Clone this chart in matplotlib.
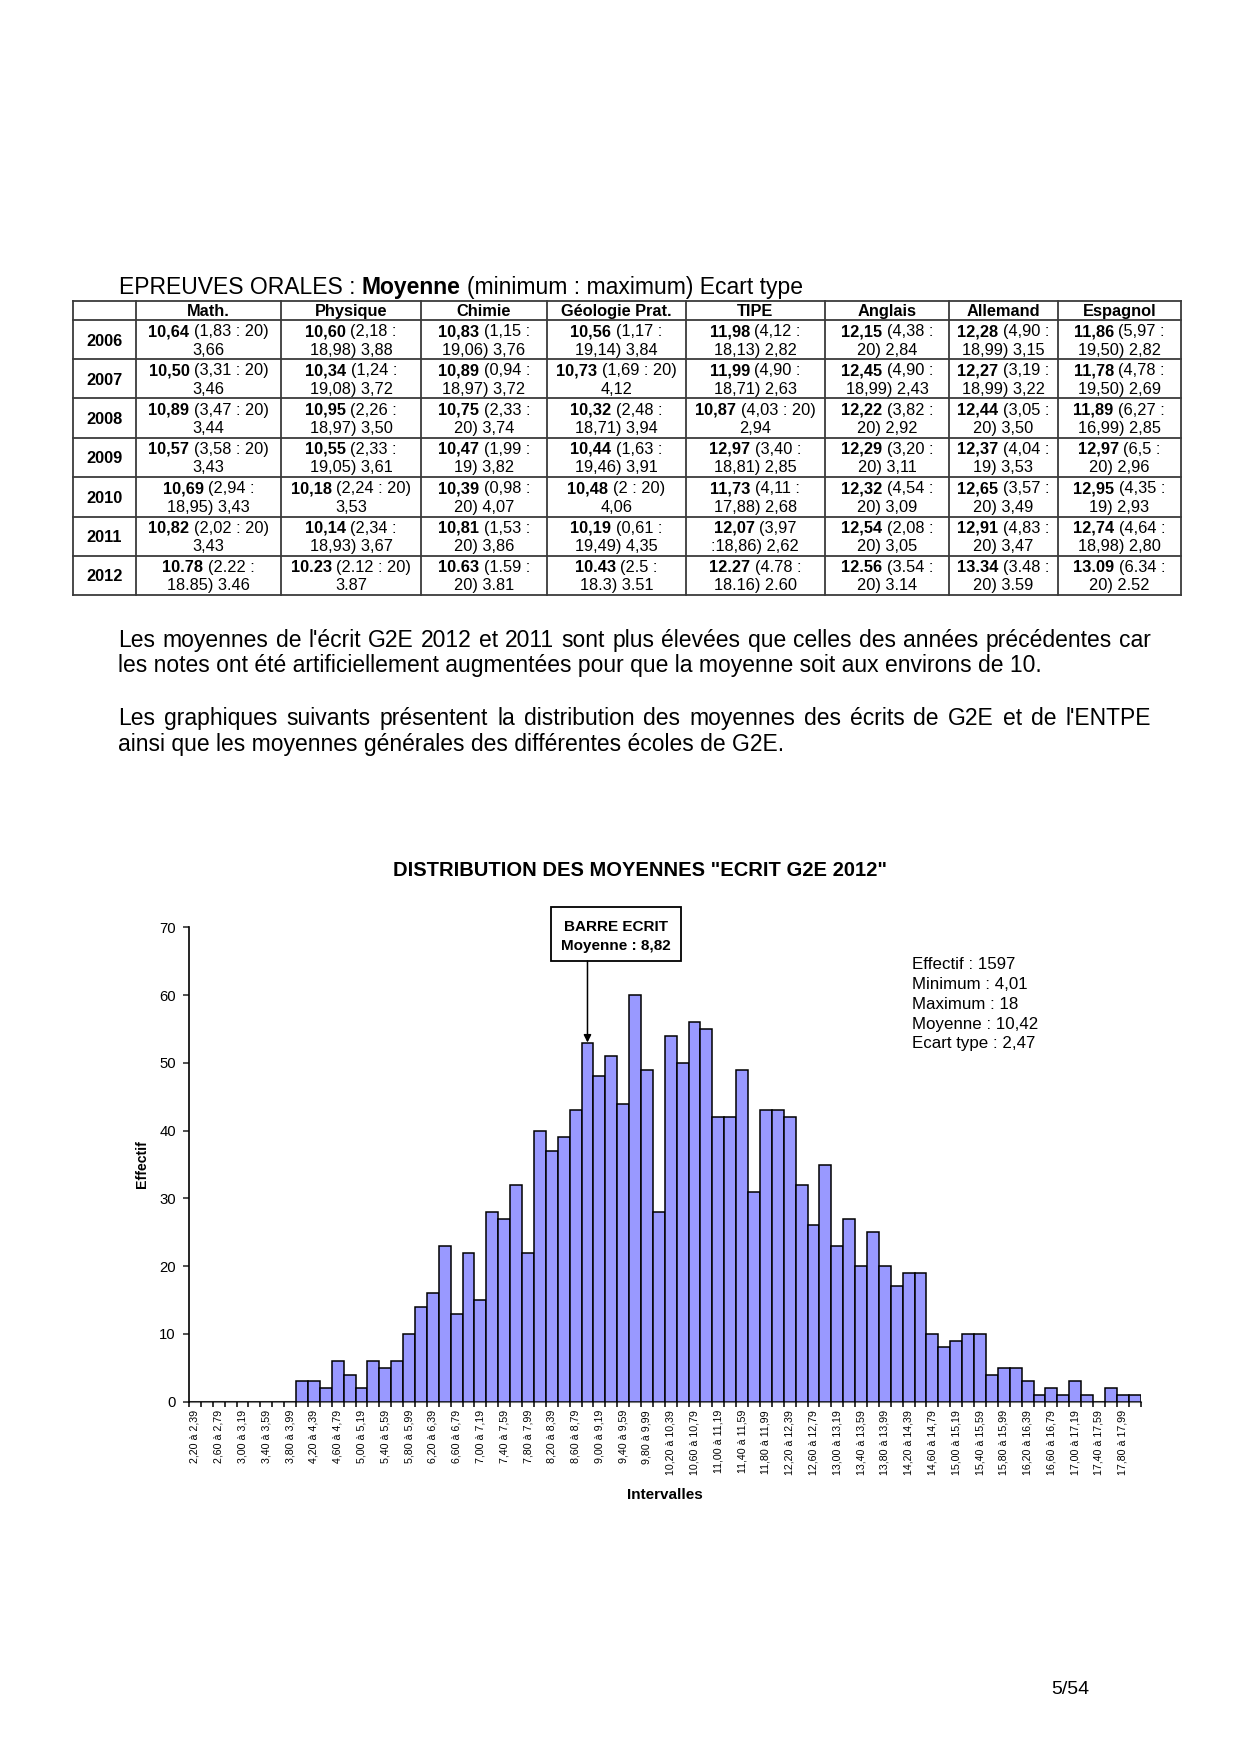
import numpy as np
import matplotlib
matplotlib.use('Agg')
import matplotlib.pyplot as plt
from matplotlib.patches import Rectangle
from matplotlib.lines import Line2D

plt.rcParams['font.family'] = ['Liberation Sans', 'DejaVu Sans']

# ---------------- DATA ----------------
table_title = [("EPREUVES ORALES :", 'normal'), ("Moyenne", 'bold'),
               ("(minimum : maximum) Ecart type", 'normal')]
subjects = ['Math.', 'Physique', 'Chimie', 'Géologie Prat.', 'TIPE',
            'Anglais', 'Allemand', 'Espagnol']
years = ['2006', '2007', '2008', '2009', '2010', '2011', '2012']

math_cells = ["10,64 (1,83 : 20)\n3,66", "10,50 (3,31 : 20)\n3,46", "10,89 (3,47 : 20)\n3,44",
              "10,57 (3,58 : 20)\n3,43", "10,69 (2,94 :\n18,95) 3,43", "10,82 (2,02 : 20)\n3,43",
              "10.78 (2.22 :\n18.85) 3.46"]
physique_cells = ["10,60 (2,18 :\n18,98) 3,88", "10,34 (1,24 :\n19,08) 3,72", "10,95 (2,26 :\n18,97) 3,50",
                  "10,55 (2,33 :\n19,05) 3,61", "10,18 (2,24 : 20)\n3,53", "10,14 (2,34 :\n18,93) 3,67",
                  "10.23 (2.12 : 20)\n3.87"]
chimie_cells = ["10,83 (1,15 :\n19,06) 3,76", "10,89 (0,94 :\n18,97) 3,72", "10,75 (2,33 :\n20) 3,74",
                "10,47 (1,99 :\n19) 3,82", "10,39 (0,98 :\n20) 4,07", "10,81 (1,53 :\n20) 3,86",
                "10.63 (1.59 :\n20) 3.81"]
geologie_cells = ["10,56 (1,17 :\n19,14) 3,84", "10,73 (1,69 : 20)\n4,12", "10,32 (2,48 :\n18,71) 3,94",
                  "10,44 (1,63 :\n19,46) 3,91", "10,48 (2 : 20)\n4,06", "10,19 (0,61 :\n19,49) 4,35",
                  "10.43 (2.5 :\n18.3) 3.51"]
tipe_cells = ["11,98 (4,12 :\n18,13) 2,82", "11,99 (4,90 :\n18,71) 2,63", "10,87 (4,03 : 20)\n2,94",
              "12,97 (3,40 :\n18,81) 2,85", "11,73 (4,11 :\n17,88) 2,68", "12,07 (3,97\n:18,86) 2,62",
              "12.27 (4.78 :\n18.16) 2.60"]
anglais_cells = ["12,15 (4,38 :\n20) 2,84", "12,45 (4,90 :\n18,99) 2,43", "12,22 (3,82 :\n20) 2,92",
                 "12,29 (3,20 :\n20) 3,11", "12,32 (4,54 :\n20) 3,09", "12,54 (2,08 :\n20) 3,05",
                 "12.56 (3.54 :\n20) 3.14"]
allemand_cells = ["12,28 (4,90 :\n18,99) 3,15", "12,27 (3,19 :\n18,99) 3,22", "12,44 (3,05 :\n20) 3,50",
                  "12,37 (4,04 :\n19) 3,53", "12,65 (3,57 :\n20) 3,49", "12,91 (4,83 :\n20) 3,47",
                  "13.34 (3.48 :\n20) 3.59"]
espagnol_cells = ["11,86 (5,97 :\n19,50) 2,82", "11,78 (4,78 :\n19,50) 2,69", "11,89 (6,27 :\n16,99) 2,85",
                  "12,97 (6,5 :\n20) 2,96", "12,95 (4,35 :\n19) 2,93", "12,74 (4,64 :\n18,98) 2,80",
                  "13.09 (6.34 :\n20) 2.52"]
columns = [math_cells, physique_cells, chimie_cells, geologie_cells, tipe_cells,
           anglais_cells, allemand_cells, espagnol_cells]

paragraph1 = ["Les moyennes de l'écrit G2E 2012 et 2011 sont plus élevées que celles des années précédentes car",
              "les notes ont été artificiellement augmentées pour que la moyenne soit aux environs de 10."]
paragraph2 = ["Les graphiques suivants présentent la distribution des moyennes des écrits de G2E et de l'ENTPE",
              "ainsi que les moyennes générales des différentes écoles de G2E."]

chart_title = 'DISTRIBUTION DES MOYENNES "ECRIT G2E 2012"'
tick_labels = ["2,20 à 2,39", "2,60 à 2,79", "3,00 à 3,19", "3,40 à 3,59", "3,80 à 3,99",
               "4,20 à 4,39", "4,60 à 4,79", "5,00 à 5,19", "5,40 à 5,59", "5,80 à 5,99",
               "6,20 à 6,39", "6,60 à 6,79", "7,00 à 7,19", "7,40 à 7,59", "7,80 à 7,99",
               "8,20 à 8,39", "8,60 à 8,79", "9,00 à 9,19", "9,40 à 9,59", "9,80 à 9,99",
               "10,20 à 10,39", "10,60 à 10,79", "11,00 à 11,19", "11,40 à 11,59", "11,80 à 11,99",
               "12,20 à 12,39", "12,60 à 12,79", "13,00 à 13,19", "13,40 à 13,59", "13,80 à 13,99",
               "14,20 à 14,39", "14,60 à 14,79", "15,00 à 15,19", "15,40 à 15,59", "15,80 à 15,99",
               "16,20 à 16,39", "16,60 à 16,79", "17,00 à 17,19", "17,40 à 17,59", "17,80 à 17,99"]
# counts per 0.20-wide interval, starting at 2,20
counts = [0, 0, 0, 0, 0, 0, 0, 0, 0,
          3, 3, 2, 6, 4, 2, 6, 5, 6, 10, 14,
          16, 23, 13, 22, 15, 28, 27, 32, 22, 40, 37, 39, 43, 53, 48, 51, 44, 60, 49, 28, 54,
          50, 56, 55, 42, 42, 49, 31, 43, 43, 42, 32, 26, 35, 23, 27, 20, 25, 20, 17, 19, 19,
          10, 8, 9, 10, 10, 4, 5, 5, 3, 1, 2, 1, 3, 1, 0, 2, 1, 1]
first_bin = 2.20
bin_width = 0.20
barre_value = 8.82
barre_lines = ["BARRE ECRIT", "Moyenne : 8,82"]
stats_lines = ["Effectif : 1597", "Minimum : 4,01", "Maximum : 18", "Moyenne : 10,42", "Ecart type : 2,47"]
page_number = "5/54"

# ---------------- LAYOUT ----------------
W, H = 1240, 1754
fig = plt.figure(figsize=(W / 100, H / 100), dpi=100)
page = fig.add_axes([0, 0, 1, 1])
page.set_xlim(0, W)
page.set_ylim(H, 0)
page.axis('off')
renderer = fig.canvas.get_renderer()


def _w(t, size, weight):
    a = page.text(0, 0, t, fontsize=size, fontweight=weight)
    r = a.get_window_extent(renderer).width
    a.remove()
    return r


def adv(s, size, weight='normal'):
    return _w('X' + s + 'X', size, weight) - _w('XX', size, weight)


def baseline(yc, size):
    return yc + 0.36 * size * 100 / 72


def draw_pieces(x, yc, pieces, size, align='left'):
    sp = adv(' ', size)
    widths = [adv(t, size, w) for t, w in pieces]
    total = sum(widths) + sp * (len(pieces) - 1)
    if align == 'center':
        x = x - total / 2
    yb = baseline(yc, size)
    for (t, w), wd in zip(pieces, widths):
        page.text(x, yb, t, fontsize=size, fontweight=w, ha='left', va='baseline')
        x += wd + sp


def draw_justified(x0, x1, yc, line, size):
    words = line.split(' ')
    widths = [adv(w, size) for w in words]
    gap = (x1 - x0 - sum(widths)) / (len(words) - 1)
    x = x0
    yb = baseline(yc, size)
    for w, wd in zip(words, widths):
        page.text(x, yb, w, fontsize=size, ha='left', va='baseline')
        x += wd + gap


# ---- table title ----
draw_pieces(119, 285.5, table_title, 16.5)

# ---- table ----
col_x = [73, 136, 281, 421, 547, 685.5, 825, 949, 1057.5, 1181]
row_y = [300.7, 320, 359.3, 398.3, 437.7, 476.7, 516.7, 555.7, 595]
lc = '#3a3a3a'
for xv in col_x:
    page.add_line(Line2D([xv, xv], [row_y[0], row_y[-1]], color=lc, lw=1.3))
for yv in row_y:
    page.add_line(Line2D([col_x[0], col_x[-1]], [yv, yv], color=lc, lw=1.3))

tsize = 11.8
for j, s in enumerate(subjects):
    xc = (col_x[j + 1] + col_x[j + 2]) / 2
    draw_pieces(xc, (row_y[0] + row_y[1]) / 2, [(s, 'bold')], tsize, 'center')
for i, yr in enumerate(years):
    yc = (row_y[i + 1] + row_y[i + 2]) / 2
    draw_pieces((col_x[0] + col_x[1]) / 2, yc, [(yr, 'bold')], tsize, 'center')
    for j, col in enumerate(columns):
        xc = (col_x[j + 1] + col_x[j + 2]) / 2
        l1, l2 = col[i].split('\n')
        bold, rest = l1.split(' ', 1)
        draw_pieces(xc, yc - 9.2, [(bold, 'bold'), (rest, 'normal')], tsize, 'center')
        draw_pieces(xc, yc + 9.2, [(l2, 'normal')], tsize, 'center')

# ---- paragraphs ----
psize = 16.5
draw_justified(118.5, 1150.5, 638.5, paragraph1[0], psize)
draw_pieces(118.5, 664, [(paragraph1[1], 'normal')], psize)
draw_justified(118.5, 1150.5, 716.7, paragraph2[0], psize)
draw_pieces(118.5, 742.4, [(paragraph2[1], 'normal')], psize)

# ---- chart ----
ax = fig.add_axes([189 / W, 1 - 1401.7 / H, (1140.6 - 189) / W, 474.4 / H])
ax.set_facecolor('none')
xpos = np.arange(len(counts))
ax.bar(xpos, counts, width=1.0, align='edge', color='#9999FF',
       edgecolor='black', linewidth=1.1, zorder=2)
ax.set_xlim(0, len(counts))
ax.set_ylim(0, 70)
ax.set_yticks(range(0, 71, 10))
ax.set_xticks(np.arange(0, len(counts) + 1))
ax.set_xticklabels([])
ax.set_xticks(np.arange(0, len(counts), 2) + 0.5, minor=True)
ax.set_xticklabels(tick_labels, minor=True, rotation=90, fontsize=7.7)
ax.tick_params(axis='x', which='major', length=3.5, width=1.1, color='black', direction='out')
ax.tick_params(axis='x', which='minor', length=0, pad=6)
ax.tick_params(axis='y', length=4.5, width=1.1, color='#222222', pad=5, labelsize=10.7)
for sp in ['top', 'right']:
    ax.spines[sp].set_visible(False)
ax.spines['left'].set_linewidth(1.2)
ax.spines['left'].set_color('black')
ax.spines['bottom'].set_linewidth(1.5)
ax.spines['bottom'].set_color('#7a7a7a')
ax.spines['bottom'].set_zorder(1)

page.text(640, 871, chart_title, fontsize=14.5, fontweight='bold', ha='center', va='center')
page.text(142, 1164.5, 'Effectif', fontsize=10.2, fontweight='bold', rotation=90,
          ha='center', va='center')
page.text(665, 1495, 'Intervalles', fontsize=11, fontweight='bold', ha='center', va='center')

# annotation box and arrow
page.add_patch(Rectangle((551, 907), 130, 54, facecolor='white', edgecolor='black', lw=1.3))
draw_pieces(616, 925.3, [(barre_lines[0], 'bold')], 11.0, 'center')
draw_pieces(616, 944.2, [(barre_lines[1], 'bold')], 11.0, 'center')
barre_bin = int((barre_value - first_bin) / bin_width)
ax.annotate('', xy=(barre_bin + 0.5, counts[barre_bin]), xycoords='data',
            xytext=(barre_bin + 0.5, 961), textcoords=(ax.transData, page.transData),
            arrowprops=dict(arrowstyle='-|>', color='black', lw=1.1, mutation_scale=11,
                            shrinkA=0, shrinkB=0),
            annotation_clip=False)

for k, line in enumerate(stats_lines):
    draw_pieces(911.5, 963.3 + 19.7 * k, [(line, 'normal')], 12.2)

page.text(1070, 1690, page_number, fontsize=14, ha='center', va='center')

fig.savefig('out.png', dpi=100)
